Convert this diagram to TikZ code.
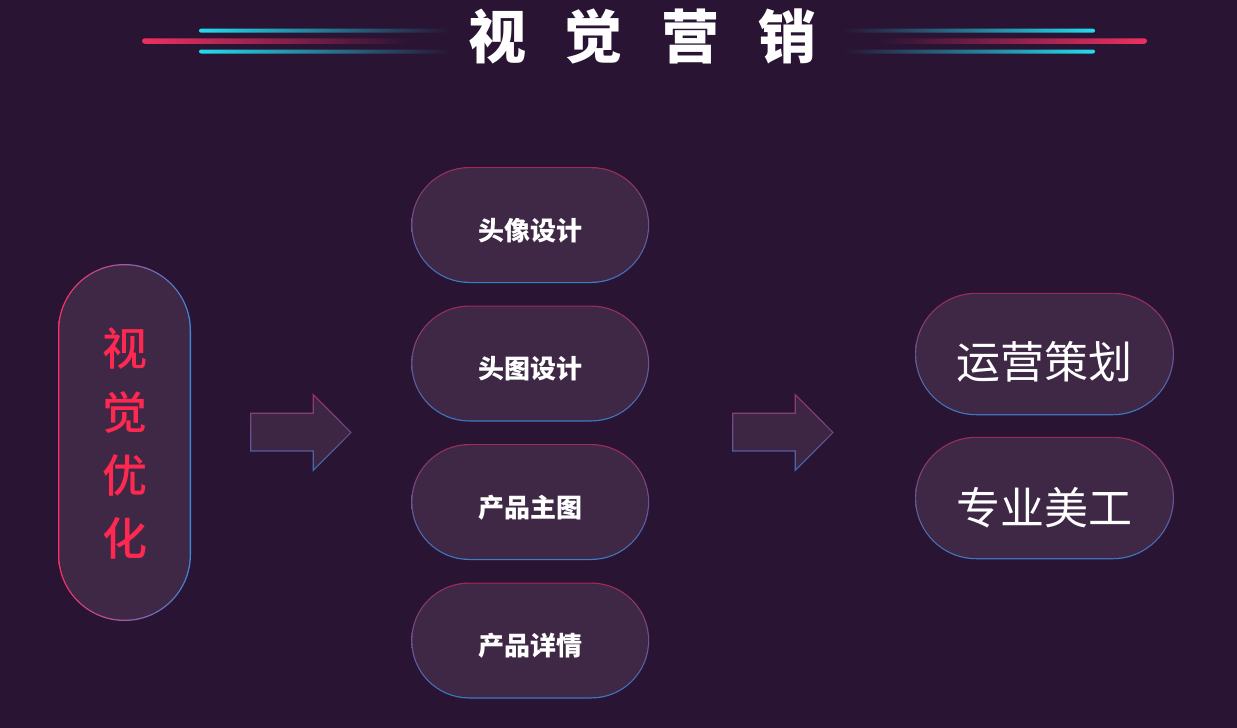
\documentclass[tikz,border=0pt]{standalone}
\usepackage{fontspec}
\newfontfamily\cjk{Noto Sans CJK SC}
\newfontfamily\cjkmed{Noto Sans CJK SC Medium}
\usetikzlibrary{shapes.misc}
\definecolor{bg}{HTML}{2A1434}
\definecolor{pillfill}{HTML}{3E2846}
\definecolor{bordtop}{HTML}{A02A58}
\definecolor{bordbot}{HTML}{3A7CC8}
\definecolor{lpink}{HTML}{FF3068}
\definecolor{lblue}{HTML}{3C88D8}
\definecolor{txtred}{HTML}{FF2850}
\definecolor{redline}{HTML}{EE3060}
\definecolor{redmid}{HTML}{A06A88}
\definecolor{cyanline}{HTML}{22DDEE}
\definecolor{cyanmid}{HTML}{1CA8C0}
\definecolor{arrtop}{HTML}{A03062}
\definecolor{arrbot}{HTML}{3A70B8}
\definecolor{arrfill}{HTML}{3C2644}
\tikzset{
  pillouter/.style={rounded rectangle, inner sep=0pt, outer sep=0pt, top color=bordtop, bottom color=bordbot, draw=none},
  pillinner/.style={rounded rectangle, inner sep=0pt, outer sep=0pt, fill=pillfill, draw=none},
  midtext/.style={anchor=base, text=white, font=\cjk\bfseries\fontsize{26}{30}\selectfont, inner sep=0pt},
  righttext/.style={anchor=base, text=white, font=\cjk\fontsize{44}{50}\selectfont, inner sep=0pt},
  lefttext/.style={anchor=base, text=txtred, font=\cjkmed\fontsize{45}{50}\selectfont, inner sep=0pt},
  titletext/.style={anchor=base, text=white, font=\cjk\bfseries\fontsize{58}{62}\selectfont, inner sep=0pt},
  redbar/.style={rounded corners=2.75pt},
  cyanbar/.style={rounded corners=2pt},
}
\newcommand\myblockarrow[1]{%
  \begin{scope}[xshift=#1]
    \shade[top color=arrtop, bottom color=arrbot]
      (250,412.7) -- (312.7,412.7) -- (312.7,393.3) -- (351.7,432.5) -- (312.7,471.7) -- (312.7,451.7) -- (250,451.7) -- cycle;
    \fill[arrfill]
      (251.3,414) -- (314,414) -- (314,396.44) -- (350.06,432.5) -- (314,468.56) -- (314,450.4) -- (251.3,450.4) -- cycle;
  \end{scope}}
\begin{document}
\begin{tikzpicture}[x=1pt,y=-1pt]
\useasboundingbox (0,0) rectangle (1237,728);
\fill[bg] (0,0) rectangle (1237,728);

% title bars
\shade[redbar, left color=redline, middle color=redmid, right color=bg] (142,38.25) rectangle (410,43.75);
\shade[cyanbar, left color=cyanline, middle color=cyanmid, right color=bg] (199,28.7) rectangle (450,32.7);
\shade[cyanbar, left color=cyanline, middle color=cyanmid, right color=bg] (199,49.5) rectangle (450,53.5);
\shade[redbar, left color=bg, middle color=redmid, right color=redline] (880,38.25) rectangle (1147,43.75);
\shade[cyanbar, left color=bg, middle color=cyanmid, right color=cyanline] (843,28.7) rectangle (1095,32.7);
\shade[cyanbar, left color=bg, middle color=cyanmid, right color=cyanline] (843,49.5) rectangle (1095,53.5);
\node[titletext] (title) at (642.5,58) {\spaceskip=39pt\relax 视 觉 营 销};

% left vertical pill
\shade[left color=lpink, right color=lblue, rounded corners=66.5pt] (58,264) rectangle (191,621);
\fill[pillfill, rounded corners=65.2pt] (59.3,265.3) rectangle (189.7,619.7);
\node[lefttext] (l1) at (124.5,365) {视};
\node[lefttext] (l2) at (124.5,429) {觉};
\node[lefttext] (l3) at (124.5,492) {优};
\node[lefttext] (l4) at (124.5,555) {化};

% arrows
\myblockarrow{0pt}
\myblockarrow{482pt}

% middle pills
\foreach \n/\cy/\t in {1/225/头像设计, 2/363.5/头图设计, 3/502/产品主图, 4/640.5/产品详情}{
  \node[pillouter, minimum width=238pt, minimum height=116pt] (m\n o) at (530.2,\cy) {};
  \node[pillinner, minimum width=235.6pt, minimum height=113.6pt] (m\n i) at (530.2,\cy) {};
  \node[midtext] (m\n) at (530.2,\cy+15.2) {\t};
}

% right pills
\node[pillouter, minimum width=259pt, minimum height=122.5pt] (r1o) at (1044.5,354) {};
\node[pillinner, minimum width=256.6pt, minimum height=120.1pt] (r1i) at (1044.5,354) {};
\node[righttext] (r1) at (1044.5,378.4) {运营策划};
\node[pillouter, minimum width=259pt, minimum height=122.5pt] (r2o) at (1044.5,498) {};
\node[pillinner, minimum width=256.6pt, minimum height=120.1pt] (r2i) at (1044.5,498) {};
\node[righttext] (r2) at (1044.5,524.5) {专业美工};
\end{tikzpicture}
\end{document}
